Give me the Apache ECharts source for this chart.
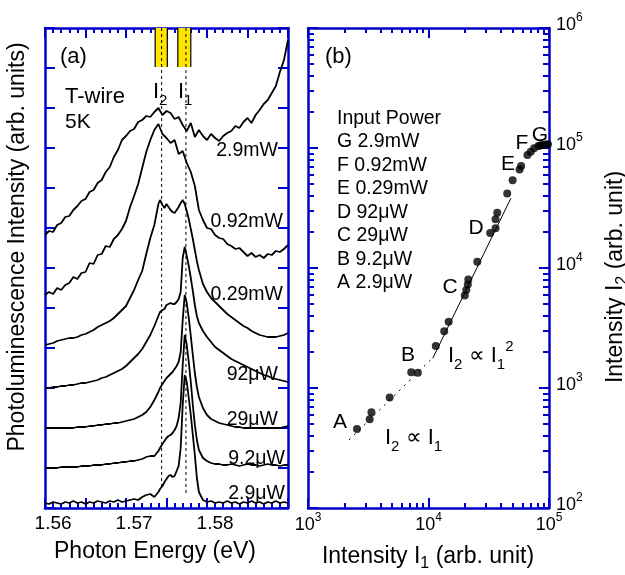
<!DOCTYPE html>
<html><head><meta charset="utf-8">
<script src="https://cdn.jsdelivr.net/npm/echarts@6/dist/echarts.min.js"></script>
<style>html,body{margin:0;padding:0;background:#fff}#c{width:625px;height:575px}</style>
</head><body><div id="c"></div>
<script>
// ---------------- DATA ----------------
// (a) photon energy grids (eV)
const energyBroad = [1.559,1.5595,1.56,1.5605,1.561,1.5615,1.562,1.5625,1.563,1.5635,1.564,1.5645,1.565,1.5655,1.566,1.5665,1.567,1.5675,1.568,1.5685,1.569,1.5695,1.57,1.5705,1.571,1.5715,1.572,1.5725,1.573,1.5735,1.574,1.5745,1.575,1.5755,1.576,1.5765,1.577,1.5775,1.578,1.5785,1.579,1.5795,1.58,1.5805,1.581,1.5815,1.582,1.5825,1.583,1.5835,1.584,1.5845,1.585,1.5855,1.586,1.5865,1.587,1.5875,1.588,1.5885,1.589];
const energyFine = [1.559,1.5595,1.56,1.5605,1.561,1.5615,1.562,1.5625,1.563,1.5635,1.564,1.5645,1.565,1.5655,1.566,1.5665,1.567,1.5675,1.568,1.5685,1.569,1.5695,1.57,1.5705,1.571,1.5715,1.572,1.5725,1.573,
 1.5732,1.5735,1.57375,1.574,1.57425,1.5745,1.57475,1.575,1.57525,1.5755,1.57575,1.576,1.57625,1.5765,1.57675,1.577,1.57725,1.5775,1.57775,1.578,
 1.5785,1.579,1.5795,1.58,1.5805,1.581,1.5815,1.582,1.5825,1.583,1.5835,1.584,1.5845,1.585,1.5855,1.586,1.5865,1.587,1.5875,1.588,1.5885,1.589];

// (a) PL spectra, stacked, arb. units (offset included)
const pl_2_9mW = [273,277,276,283,285,291,292,298,302,307,309,316,318,325,328,336,341,351,358,368,372,377,379,386,388,392,391,396,400,393,397,395,389,391,383,377,385,371,378,372,368,374,370,367,372,375,377,382,380,386,390,385,393,398,404,408,415,422,436,448,468];
const pl_0_92mW = [213,216,214,220,218,223,225,231,229,235,236,245,244,253,254,262,261,269,273,279,287,301,312,324,340,356,368,378,384,374,370,365,368,354,357,345,336,322,298,288,280,279,273,270,269,264,262,259,260,256,252,255,251,253,250,254,253,257,256,259,263];
const pl_0_29mW = [163,164,165,167,168,169,170,170,171,173,174,176,178,181,183,185,187,190,194,198,202,210,218,228,237,254,270,283,304,
 308,303,300,304,301,298,296,295,298,301,305,308,304,297,289,279,269,258,247,238,
 224,216,210,206,202,198,194,191,188,185,182,180,177,175,173,172,171,171,171,172,173,175];
const pl_92uW = [120,120,121,121,122,122,123,123,124,125,125,126,127,128,130,131,133,135,137,139,142,146,150,154,159,166,173,182,192,
 196,198,199,203,204,205,204,204,206,209,216,250,261,252,242,230,217,203,192,185,
 177,171,166,161,158,155,152,149,147,145,143,141,139,137,135,133,132,130,129,128,127,126];
const pl_29uW = [80,80,80,80,80,80,80,80,81,81,81,82,82,83,83,84,84,85,85,86,87,88,89,91,93,96,101,108,116,
 120,124,127,130,132,134,136,139,142,146,156,188,213,205,190,172,153,135,121,111,
 100,93,89,87,85,84,83,82,81,81,80,80,80,80,80,80,80,80,80,80,81,82];
const pl_9_2uW = [40,40,40,40,41,41,41,41,41,42,42,42,43,43,43,44,44,45,45,46,46,47,47,48,49,51,52,52,57,
 60,64,67,70,72,73,75,78,82,90,105,143,173,163,146,126,103,83,68,58,
 50,47,45,44,44,43,43,44,43,42,43,44,43,43,42,43,44,43,43,42,43,43];
const pl_2_9uW = [5,4,6,5,4,6,5,7,5,6,4,6,5,7,6,5,7,6,8,6,7,8,9,8,11,13,14,11,16,
 19,22,26,29,32,33,31,32,37,42,60,103,133,126,110,93,73,53,30,16,
 8,6,7,5,6,5,7,5,6,4,6,5,7,5,6,4,6,5,7,5,6,5];
const spectrumLabels = ['2.9mW','0.92mW','0.29mW','92\u03bcW','29\u03bcW','9.2\u03bcW','2.9\u03bcW'];

// (a) I2 / I1 peak positions (eV) and marker bands [E0, E1, top, bottom]
const peakI2 = 1.5734, peakI1 = 1.5764;
const peakLineBottom = [20, 15];
const markerBands = [[1.5726,1.5741,480,441],[1.5754,1.5770,480,441]];

// (a) axis ticks / labels
const energyLabels = [1.56,1.57,1.58];
const energyMajorTicks = [1.559,1.564,1.569,1.574,1.579,1.584,1.589];
const energyMinorTicks = [1.56,1.561,1.562,1.563,1.565,1.566,1.567,1.568,1.57,1.571,1.572,1.573,1.575,1.576,1.577,1.578,1.58,1.581,1.582,1.583,1.585,1.586,1.587,1.588];

// (b) integrated intensities
const intensityI1 = [2550,3250,3360,4760,7190,8160,11500,13500,14700,20000,20600,21200,21400,25400,32500,36000,36000,37200,45000,49900,57000,58700,66200,70600,75200,81600,84300,88000,93900,98000];
const intensityI2 = [455,550,627,833,1350,1340,2240,2970,3570,5900,6560,7290,8020,11300,19600,21400,25500,28800,41800,53800,66200,70800,87400,93200,99400,103900,104900,105900,106900,107300];
const fitQuadratic = [[10850,1770],[48250,38100]];
const fitLinear = [[2190,369],[10600,1745]];
const powerList = ['Input Power','G 2.9mW','F 0.92mW','E 0.29mW','D 92\u03bcW','C 29\u03bcW','B 9.2\u03bcW','A 2.9\u03bcW'];
const logMajorX = [1e3,1e4,1e5];
const logMinorX = [2000,3000,4000,5000,6000,7000,8000,9000,20000,30000,40000,50000,60000,70000,80000,90000];
const logMajorY = [1e2,1e3,1e4,1e5,1e6];
const logMinorY = [200,300,400,500,600,700,800,900,2000,3000,4000,5000,6000,7000,8000,9000,20000,30000,40000,50000,60000,70000,80000,90000,200000,300000,400000,500000,600000,700000,800000,900000];

// ---------------- STYLE ----------------
const FONT = "'Liberation Sans', Arial, Helvetica, sans-serif";
const BLUE = '#0000C8';
const AXW = 2.5;

function richSS(base, sub, drop) {
  return {
    b: {fontSize: base, fontFamily: FONT, lineHeight: base, padding: [6,0,0,0], verticalAlign: 'top', color:'#000'},
    s: {fontSize: sub, fontFamily: FONT, lineHeight: sub, padding: [drop,0,0,0], verticalAlign: 'top', color:'#000'},
    p: {fontSize: sub, fontFamily: FONT, lineHeight: sub, padding: [0,0,0,0], verticalAlign: 'top', color:'#000'}
  };
}
function txt(x, y, text, size, o) {
  o = o || {};
  const st = {text: text, fontSize: size, fontFamily: FONT, fill: '#000',
    align: o.align || 'left', verticalAlign: o.va || 'middle'};
  if (o.rich) st.rich = o.rich;
  return {type: 'text', x: x, y: y, rotation: o.rot || 0, z: 100, silent: true, style: st};
}

const logRich = {
  b: {fontSize: 18, fontFamily: FONT, lineHeight: 18, padding: [4,0,0,0], verticalAlign: 'top', color:'#000'},
  s: {fontSize: 12, fontFamily: FONT, lineHeight: 12, verticalAlign: 'top', color:'#000'}
};
const logFmt = v => '{b|10}{s|' + Math.round(Math.log10(v)) + '}';

function lineAx(show) { return {show: show, onZero: false, lineStyle: {color: BLUE, width: AXW}}; }
function tickAx(vals, len) { return {show: true, inside: true, length: len, customValues: vals, lineStyle: {color: BLUE, width: 2}}; }
const noLabel = {show: false};
const noSplit = {show: false};

// ---------------- AXES ----------------
const xAxes = [
  {gridIndex:0, type:'value', min:1.559, max:1.589, position:'bottom', axisLine: lineAx(true), axisTick: tickAx(energyMajorTicks,10),
   axisLabel:{show:true, customValues: energyLabels, formatter: v => v.toFixed(2), fontSize:19, fontFamily:FONT, color:'#000', margin:6}, splitLine: noSplit},
  {gridIndex:0, type:'value', min:1.559, max:1.589, position:'bottom', axisLine: lineAx(false), axisTick: tickAx(energyMinorTicks,5), axisLabel: noLabel, splitLine: noSplit},
  {gridIndex:0, type:'value', min:1.559, max:1.589, position:'top', axisLine: lineAx(true), axisTick: tickAx(energyMajorTicks,10), axisLabel: noLabel, splitLine: noSplit},
  {gridIndex:0, type:'value', min:1.559, max:1.589, position:'top', axisLine: lineAx(false), axisTick: tickAx(energyMinorTicks,5), axisLabel: noLabel, splitLine: noSplit},
  {gridIndex:1, type:'log', logBase:10, min:1e3, max:1e5, position:'bottom', axisLine: lineAx(true), axisTick: tickAx(logMajorX,10),
   axisLabel:{show:true, customValues: logMajorX, formatter: logFmt, rich: logRich, margin:4}, splitLine: noSplit},
  {gridIndex:1, type:'log', logBase:10, min:1e3, max:1e5, position:'bottom', axisLine: lineAx(false), axisTick: tickAx(logMinorX,5), axisLabel: noLabel, splitLine: noSplit},
  {gridIndex:1, type:'log', logBase:10, min:1e3, max:1e5, position:'top', axisLine: lineAx(true), axisTick: tickAx(logMajorX,10), axisLabel: noLabel, splitLine: noSplit},
  {gridIndex:1, type:'log', logBase:10, min:1e3, max:1e5, position:'top', axisLine: lineAx(false), axisTick: tickAx(logMinorX,5), axisLabel: noLabel, splitLine: noSplit}
];
const yAxes = [
  {gridIndex:0, type:'value', min:0, max:480, interval:40, position:'left', axisLine: lineAx(true), axisTick:{show:true, inside:true, length:10, lineStyle:{color:BLUE,width:2}}, axisLabel: noLabel, splitLine: noSplit},
  {gridIndex:0, type:'value', min:0, max:480, interval:40, position:'right', axisLine: lineAx(true), axisTick:{show:true, inside:true, length:10, lineStyle:{color:BLUE,width:2}}, axisLabel: noLabel, splitLine: noSplit},
  {gridIndex:1, type:'log', logBase:10, min:1e2, max:1e6, position:'left', axisLine: lineAx(true), axisTick: tickAx(logMajorY,10), axisLabel: noLabel, splitLine: noSplit},
  {gridIndex:1, type:'log', logBase:10, min:1e2, max:1e6, position:'left', axisLine: lineAx(false), axisTick: tickAx(logMinorY,6), axisLabel: noLabel, splitLine: noSplit},
  {gridIndex:1, type:'log', logBase:10, min:1e2, max:1e6, position:'right', axisLine: lineAx(true), axisTick: tickAx(logMajorY,10),
   axisLabel:{show:true, customValues: logMajorY, formatter: logFmt, rich: logRich, margin:7, padding:[0,0,14,0]}, splitLine: noSplit},
  {gridIndex:1, type:'log', logBase:10, min:1e2, max:1e6, position:'right', axisLine: lineAx(false), axisTick: tickAx(logMinorY,6), axisLabel: noLabel, splitLine: noSplit}
];

// ---------------- SERIES ----------------
function spectrum(name, energies, values) {
  return {name: name, type:'line', xAxisIndex:0, yAxisIndex:0, silent:true, showSymbol:false, symbol:'none',
    data: energies.map((e, i) => [e, values[i]]), lineStyle:{color:'#000', width:1.8}, z:3};
}
const series = [
  {type:'custom', xAxisIndex:0, yAxisIndex:0, silent:true, z:2, data: markerBands,
   renderItem: function (params, api) {
     const p0 = api.coord([api.value(0), api.value(2)]);
     const p1 = api.coord([api.value(1), api.value(3)]);
     return {type:'group', children:[
       {type:'rect', shape:{x:p0[0], y:p0[1], width:p1[0]-p0[0], height:p1[1]-p0[1]}, style:{fill:'#FFE500'}},
       {type:'line', shape:{x1:p0[0], y1:p0[1], x2:p0[0], y2:p1[1]}, style:{stroke:'#000', lineWidth:1.2}},
       {type:'line', shape:{x1:p1[0], y1:p0[1], x2:p1[0], y2:p1[1]}, style:{stroke:'#000', lineWidth:1.2}}
     ]};
   }},
  {type:'line', xAxisIndex:0, yAxisIndex:0, silent:true, symbol:'none', z:4, data:[[peakI2,480],[peakI2,peakLineBottom[0]]], lineStyle:{color:'#000', width:1, type:[3,3]}},
  {type:'line', xAxisIndex:0, yAxisIndex:0, silent:true, symbol:'none', z:4, data:[[peakI1,480],[peakI1,peakLineBottom[1]]], lineStyle:{color:'#000', width:1, type:[3,3]}},
  spectrum('2.9mW', energyBroad, pl_2_9mW),
  spectrum('0.92mW', energyBroad, pl_0_92mW),
  spectrum('0.29mW', energyFine, pl_0_29mW),
  spectrum('92uW', energyFine, pl_92uW),
  spectrum('29uW', energyFine, pl_29uW),
  spectrum('9.2uW', energyFine, pl_9_2uW),
  spectrum('2.9uW', energyFine, pl_2_9uW),
  {type:'line', xAxisIndex:4, yAxisIndex:4, silent:true, symbol:'none', z:3, data: fitQuadratic, lineStyle:{color:'#000', width:1}},
  {type:'line', xAxisIndex:4, yAxisIndex:4, silent:true, symbol:'none', z:3, data: fitLinear, lineStyle:{color:'#000', width:1, type:[2,5]}},
  {type:'scatter', xAxisIndex:4, yAxisIndex:4, silent:true, z:5, symbol:'circle', symbolSize:8,
   itemStyle:{color:'#000'}, data: intensityI1.map((v, i) => [v, intensityI2[i]])}
];

// ---------------- TEXT ----------------
const rs22 = richSS(22, 15, 18);
const rs23 = richSS(23, 16, 16);
const curveLabelPos = [[278,151],[283,222],[283,295],[278,375],[278,420],[285,459],[285,494]];
const listY = [118.5,142,165.5,189,212.5,236,259.5,283];
const letterPos = [['A',340,422],['B',408,355],['C',450,287],['D',476,228],['E',508,164],['F',522,143],['G',540,135]];
const graphics = [
  txt(60, 57, '(a)', 22),
  txt(65, 97, 'T-wire', 22),
  txt(65, 122, '5K', 21),
  txt(153, 86, '{b|I}{s|2}', 22, {rich: rs22}),
  txt(178, 86, '{b|I}{s|1}', 22, {rich: rs22}),
  txt(325, 57, '(b)', 22),
  txt(448, 350, '{b|I}{s|2}{b| \u221d I}{s|1}{p|2}', 22, {rich: rs22}),
  txt(385, 432, '{b|I}{s|2}{b| \u221d I}{s|1}', 22, {rich: rs22}),
  txt(18, 247, 'Photoluminescence Intensity (arb. units)', 23, {align:'center', rot: Math.PI/2}),
  txt(155, 552, 'Photon Energy (eV)', 23, {align:'center'}),
  txt(428, 551, '{b|Intensity I}{s|1}{b| (arb. unit)}', 23, {align:'center', rich: rs23}),
  txt(610, 277, '{b|Intensity I}{s|2}{b| (arb. unit)}', 23, {align:'center', rot: Math.PI/2, rich: rs23})
];
spectrumLabels.forEach((t, i) => graphics.push(txt(curveLabelPos[i][0], curveLabelPos[i][1], t, 19.5, {align:'right'})));
powerList.forEach((t, i) => graphics.push(txt(337, listY[i], t, 19.5)));
letterPos.forEach(l => graphics.push(txt(l[1], l[2], l[0], 21, {align:'center'})));

const chart = echarts.init(document.getElementById('c'), null, {renderer:'canvas'});
chart.setOption({
  animation: false,
  backgroundColor: '#fff',
  grid: [
    {left:45, top:28, width:243, height:480, outerBoundsMode:'none', containLabel:false},
    {left:308, top:28, width:241, height:480, outerBoundsMode:'none', containLabel:false}
  ],
  xAxis: xAxes,
  yAxis: yAxes,
  series: series,
  graphic: graphics
});
</script>
</body></html>
